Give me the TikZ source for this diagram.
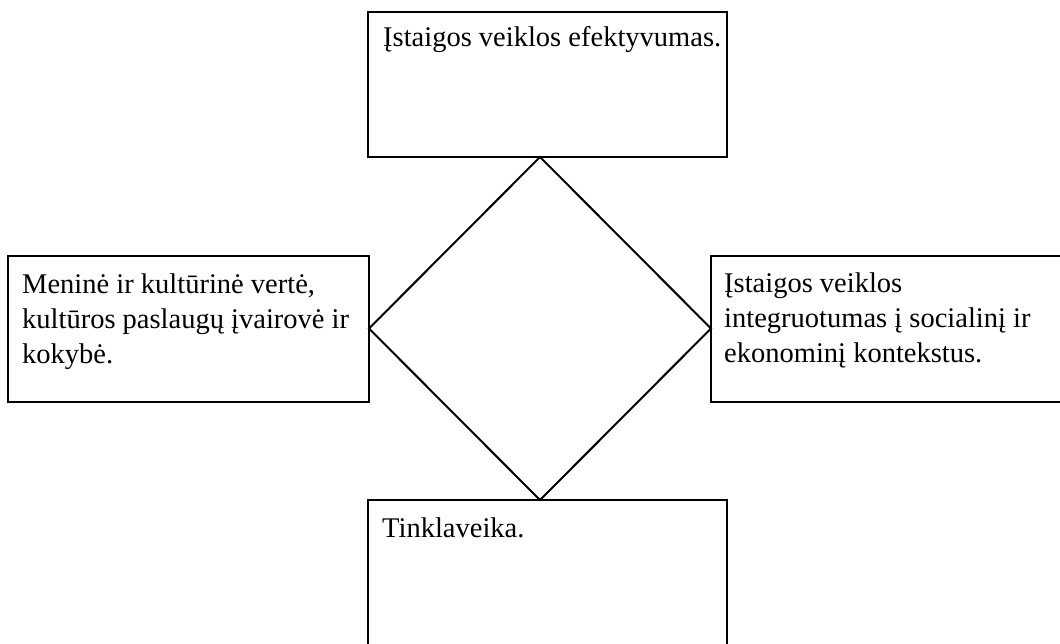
\documentclass[tikz,border=0pt]{standalone}
\usepackage{fontspec}
\setmainfont{Liberation Serif}
\usetikzlibrary{shapes.geometric}
\begin{document}
\begin{tikzpicture}[x=1pt,y=-1pt,
  box/.style={draw=black,line width=2pt,rectangle,inner sep=0pt,outer sep=0pt},
  txt/.style={anchor=base west,inner sep=0pt,font=\fontsize{28.5}{35}\selectfont}]
\fill[white] (0,0) rectangle (1060,644);
\clip (0,0) rectangle (1060,644);
\node[box,minimum width=359pt,minimum height=145pt] (topbox) at (547.5,84.5) {};
\node[box,minimum width=361pt,minimum height=146pt] (leftbox) at (188.5,329) {};
\node[box,minimum width=361pt,minimum height=146pt] (rightbox) at (891.5,329) {};
\node[box,minimum width=359pt,minimum height=150pt] (botbox) at (547.5,575) {};
\node[diamond,draw=black,line width=2pt,inner sep=0pt,outer sep=0pt,
  minimum width=342pt,minimum height=343pt] (rhombus) at (540,328.5) {};
\node[txt] (toptext) at ([shift={(15,35)}]topbox.north west) {Įstaigos veiklos efektyvumas.};
\node[txt] (lefttext) at ([shift={(14,38)}]leftbox.north west)
  {\parbox[t]{345pt}{Meninė ir kultūrinė vertė,\\kultūros paslaugų įvairovė ir\\kokybė.}};
\node[txt] (righttext) at ([shift={(13,37)}]rightbox.north west)
  {\parbox[t]{345pt}{Įstaigos veiklos\\integruotumas į socialinį ir\\ekonominį kontekstus.}};
\node[txt] (bottext) at ([shift={(14,37)}]botbox.north west) {Tinklaveika.};
\end{tikzpicture}
\end{document}
